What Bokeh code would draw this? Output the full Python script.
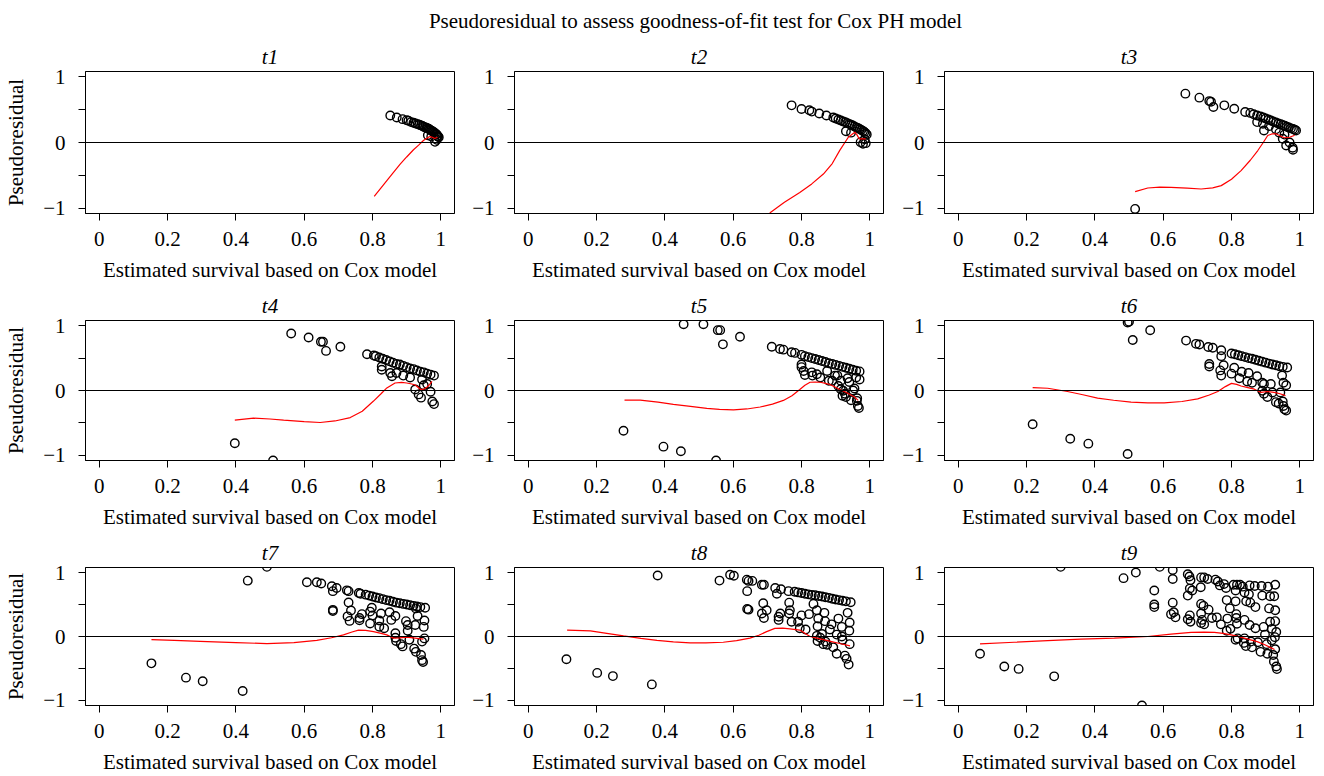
from bokeh.plotting import figure
from bokeh.layouts import gridplot, column
from bokeh.models import Range1d, FixedTicker, Span
from bokeh.embed import file_html
from bokeh.resources import INLINE

main_title = "Pseudoresidual to assess goodness-of-fit test for Cox PH model"
x_label = "Estimated survival based on Cox model"
y_label = "Pseudoresidual"
panel_names = ["t1", "t2", "t3", "t4", "t5", "t6", "t7", "t8", "t9"]
x_ticks = [0, 0.2, 0.4, 0.6, 0.8, 1]
x_tick_labels = ["0", "0.2", "0.4", "0.6", "0.8", "1"]
y_ticks = [-1, -0.5, 0, 0.5, 1]
y_tick_labels = ["\u22121", "", "0", "", "1"]

# ---------------- t1 ----------------
t1_x = [0.852, 0.871, 0.888, 0.900, 0.905, 0.913, 0.920, 0.926, 0.932, 0.937,
        0.942, 0.946, 0.950, 0.954, 0.958, 0.962, 0.965, 0.968, 0.971, 0.974,
        0.977, 0.980, 0.983, 0.986, 0.988, 0.990, 0.992, 0.994, 0.962, 0.972,
        0.983, 0.988]
t1_y = [0.41, 0.38, 0.355, 0.34, 0.33, 0.31, 0.30, 0.29, 0.28, 0.27,
        0.26, 0.25, 0.24, 0.23, 0.225, 0.215, 0.205, 0.195, 0.185, 0.175,
        0.165, 0.155, 0.14, 0.13, 0.12, 0.10, 0.09, 0.08, 0.11, 0.09,
        0.01, 0.04]
t1_fit_x = [0.805, 0.825, 0.842, 0.862, 0.881, 0.900, 0.920, 0.935, 0.949, 0.960, 0.968, 0.975, 0.982, 0.990]
t1_fit_y = [-0.82, -0.69, -0.58, -0.45, -0.33, -0.22, -0.11, -0.04, 0.03, 0.07, 0.09, 0.08, 0.06, 0.08]

# ---------------- t2 ----------------
t2_x = [0.771, 0.800, 0.823, 0.830, 0.852, 0.873, 0.893, 0.900, 0.908, 0.915,
        0.922, 0.928, 0.934, 0.940, 0.945, 0.950, 0.955, 0.960, 0.965, 0.970,
        0.975, 0.980, 0.984, 0.988, 0.991, 0.930, 0.945, 0.973, 0.980, 0.988,
        0.985]
t2_y = [0.565, 0.51, 0.49, 0.47, 0.44, 0.41, 0.38, 0.365, 0.35, 0.335,
        0.32, 0.31, 0.295, 0.28, 0.27, 0.26, 0.245, 0.23, 0.22, 0.205,
        0.19, 0.175, 0.16, 0.14, 0.12, 0.17, 0.15, 0.005, -0.02, -0.01,
        0.05]
t2_fit_x = [0.700, 0.710, 0.750, 0.795, 0.830, 0.864, 0.890, 0.912, 0.937, 0.956, 0.962, 0.969, 0.978, 0.988]
t2_fit_y = [-1.12, -1.06, -0.91, -0.76, -0.63, -0.48, -0.32, -0.12, 0.08, 0.157, 0.12, 0.055, 0.055, 0.055]

# ---------------- t3 ----------------
t3_x = [0.518, 0.665, 0.706, 0.735, 0.740, 0.747, 0.779, 0.808, 0.840, 0.855,
        0.865, 0.875, 0.885, 0.893, 0.900, 0.908, 0.915, 0.922, 0.930, 0.937,
        0.944, 0.950, 0.956, 0.962, 0.968, 0.974, 0.980, 0.985, 0.989, 0.875,
        0.892, 0.895, 0.910, 0.930, 0.950, 0.960, 0.979, 0.980, 0.970, 0.955,
        0.940]
t3_y = [-1.01, 0.743, 0.682, 0.63, 0.62, 0.539, 0.565, 0.514, 0.463, 0.45,
        0.43, 0.41, 0.395, 0.38, 0.365, 0.35, 0.335, 0.32, 0.305, 0.29,
        0.28, 0.265, 0.255, 0.24, 0.23, 0.215, 0.205, 0.195, 0.183, 0.31,
        0.285, 0.183, 0.25, 0.20, 0.056, -0.046, -0.08, -0.11, 0.0, 0.12,
        0.15]
t3_fit_x = [0.518, 0.555, 0.590, 0.623, 0.670, 0.711, 0.745, 0.770, 0.800, 0.828,
            0.855, 0.877, 0.893, 0.906, 0.918, 0.930, 0.943, 0.955, 0.970, 0.985]
t3_fit_y = [-0.748, -0.692, -0.68, -0.682, -0.695, -0.707, -0.69, -0.656, -0.56, -0.427,
            -0.27, -0.122, 0.0, 0.107, 0.13, 0.133, 0.10, 0.072, 0.08, 0.11]

# ---------------- t4 ----------------
t4_x = [0.397, 0.509, 0.562, 0.613, 0.649, 0.655, 0.664, 0.706, 0.784, 0.804,
        0.810, 0.820, 0.830, 0.840, 0.850, 0.860, 0.870, 0.880, 0.890, 0.900,
        0.910, 0.920, 0.930, 0.940, 0.950, 0.960, 0.970, 0.980, 0.827, 0.827,
        0.852, 0.857, 0.870, 0.890, 0.910, 0.925, 0.935, 0.942, 0.970, 0.975,
        0.980, 0.945, 0.950, 0.960]
t4_y = [-0.815, -1.08, 0.879, 0.818, 0.753, 0.753, 0.611, 0.676, 0.559, 0.54,
        0.53, 0.51, 0.49, 0.47, 0.45, 0.43, 0.41, 0.40, 0.38, 0.36,
        0.34, 0.33, 0.31, 0.29, 0.28, 0.26, 0.245, 0.23, 0.371, 0.32,
        0.269, 0.22, 0.27, 0.23, 0.20, 0.015, -0.06, -0.11, -0.02, -0.17,
        -0.21, 0.17, 0.08, 0.10]
t4_fit_x = [0.397, 0.452, 0.500, 0.540, 0.600, 0.647, 0.690, 0.735, 0.770, 0.803, 0.825,
            0.842, 0.866, 0.885, 0.900, 0.915, 0.925, 0.941, 0.950, 0.959, 0.967, 0.974]
t4_fit_y = [-0.458, -0.427, -0.44, -0.458, -0.48, -0.494, -0.47, -0.418, -0.32, -0.163, -0.05,
            0.04, 0.116, 0.125, 0.116, 0.10, 0.085, 0.015, 0.02, 0.05, 0.09, 0.142]

# ---------------- t5 ----------------
t5_x = [0.279, 0.396, 0.447, 0.550, 0.455, 0.513, 0.555, 0.562, 0.570, 0.620,
        0.713, 0.737, 0.747, 0.771, 0.781, 0.800, 0.810, 0.820, 0.830, 0.840,
        0.850, 0.860, 0.870, 0.880, 0.890, 0.900, 0.910, 0.920, 0.930, 0.940,
        0.950, 0.960, 0.970, 0.800, 0.800, 0.806, 0.810, 0.830, 0.832, 0.855,
        0.875, 0.880, 0.905, 0.915, 0.915, 0.920, 0.930, 0.940, 0.945, 0.955,
        0.962, 0.963, 0.965, 0.968, 0.970, 0.960, 0.935, 0.845, 0.890, 0.898,
        0.908, 0.922, 0.927, 0.951]
t5_y = [-0.621, -0.866, -0.937, -1.08, 1.023, 1.023, 0.931, 0.931, 0.712, 0.829,
        0.676, 0.64, 0.63, 0.59, 0.58, 0.55, 0.53, 0.515, 0.50, 0.485,
        0.47, 0.455, 0.44, 0.42, 0.41, 0.395, 0.38, 0.365, 0.35, 0.335,
        0.32, 0.305, 0.295, 0.40, 0.36, 0.30, 0.24, 0.28, 0.23, 0.20,
        0.30, 0.15, 0.23, 0.15, 0.02, -0.08, -0.10, 0.13, -0.15, 0.03,
        -0.16, -0.12, -0.24, -0.27, 0.17, 0.20, 0.19, 0.25, 0.15, 0.23,
        0.07, -0.005, -0.05, 0.0]
t5_fit_x = [0.282, 0.328, 0.380, 0.425, 0.475, 0.523, 0.560, 0.601, 0.640, 0.679, 0.715, 0.747, 0.772,
            0.795, 0.810, 0.825, 0.840, 0.855, 0.870, 0.883, 0.898, 0.912, 0.927, 0.942, 0.955, 0.966]
t5_fit_y = [-0.148, -0.148, -0.18, -0.214, -0.245, -0.275, -0.29, -0.30, -0.285, -0.255, -0.21, -0.153, -0.08,
            0.015, 0.08, 0.127, 0.13, 0.127, 0.11, 0.092, 0.055, 0.015, -0.02, -0.061, -0.10, -0.153]

# ---------------- t6 ----------------
t6_x = [0.218, 0.328, 0.381, 0.496, 0.496, 0.500, 0.511, 0.562, 0.667, 0.696,
        0.706, 0.732, 0.745, 0.770, 0.770, 0.800, 0.810, 0.820, 0.830, 0.840,
        0.850, 0.860, 0.870, 0.880, 0.890, 0.900, 0.910, 0.920, 0.930, 0.940,
        0.950, 0.963, 0.735, 0.735, 0.767, 0.770, 0.777, 0.800, 0.808, 0.823,
        0.830, 0.846, 0.850, 0.860, 0.875, 0.890, 0.890, 0.895, 0.905, 0.915,
        0.920, 0.930, 0.938, 0.943, 0.948, 0.950, 0.952, 0.955, 0.960, 0.960,
        0.952, 0.895]
t6_y = [-0.52, -0.745, -0.82, -0.98, 1.05, 1.06, 0.78, 0.93, 0.77, 0.72,
        0.71, 0.67, 0.66, 0.62, 0.53, 0.57, 0.56, 0.545, 0.53, 0.515,
        0.50, 0.49, 0.475, 0.46, 0.445, 0.43, 0.415, 0.40, 0.39, 0.375,
        0.365, 0.356, 0.41, 0.37, 0.31, 0.23, 0.39, 0.26, 0.35, 0.19,
        0.29, 0.14, 0.27, 0.12, 0.22, 0.12, -0.005, -0.05, -0.10, 0.10,
        -0.03, -0.18, -0.20, -0.03, 0.23, -0.17, -0.24, -0.29, -0.31, 0.08,
        0.12, 0.10]
t6_fit_x = [0.218, 0.262, 0.320, 0.365, 0.408, 0.455, 0.506, 0.555, 0.603, 0.655, 0.701, 0.735,
            0.760, 0.782, 0.800, 0.815, 0.828, 0.848, 0.867, 0.887, 0.905, 0.925, 0.942, 0.958]
t6_fit_y = [0.045, 0.035, -0.015, -0.065, -0.117, -0.15, -0.18, -0.19, -0.19, -0.17, -0.13, -0.07,
            -0.015, 0.06, 0.11, 0.095, 0.07, 0.045, 0.02, -0.03, -0.015, -0.03, -0.05, -0.08]

# ---------------- t7 ----------------
t7_x = [0.153, 0.254, 0.303, 0.420, 0.435, 0.491,
        0.608, 0.637, 0.650, 0.681, 0.684, 0.695, 0.725, 0.730, 0.760, 0.765,
        0.780, 0.790, 0.800, 0.810, 0.820, 0.830, 0.840, 0.850, 0.860, 0.870,
        0.880, 0.890, 0.900, 0.910, 0.920, 0.930, 0.940, 0.954,
        0.730, 0.737, 0.727, 0.733, 0.684, 0.684, 0.762, 0.762, 0.769, 0.793,
        0.793, 0.798, 0.800, 0.820, 0.825, 0.820, 0.834, 0.850, 0.855, 0.867,
        0.867, 0.867, 0.869, 0.883, 0.888, 0.898, 0.903, 0.903, 0.908, 0.922,
        0.927, 0.925, 0.932, 0.942, 0.945, 0.948, 0.945, 0.952, 0.950, 0.952,
        0.927]
t7_y = [-0.42, -0.644, -0.70, -0.853, 0.874, 1.09,
        0.848, 0.848, 0.83, 0.787, 0.71, 0.76, 0.722, 0.71, 0.68, 0.67,
        0.655, 0.64, 0.625, 0.61, 0.60, 0.585, 0.57, 0.56, 0.545, 0.53,
        0.52, 0.51, 0.50, 0.49, 0.48, 0.47, 0.46, 0.45,
        0.533, 0.407, 0.315, 0.244, 0.417, 0.40, 0.254, 0.29, 0.35, 0.204,
        0.39, 0.45, 0.33, 0.25, 0.36, 0.152, 0.13, 0.38, 0.26, 0.32,
        0.05, -0.02, -0.07, -0.12, -0.155, 0.24, 0.09, 0.18, -0.05, -0.19,
        -0.24, 0.18, 0.32, -0.29, -0.37, -0.40, -0.08, 0.25, 0.15, -0.03,
        0.44]
t7_fit_x = [0.153, 0.220, 0.296, 0.400, 0.491, 0.570, 0.637, 0.680, 0.715, 0.740,
            0.759, 0.780, 0.803, 0.825, 0.842, 0.861, 0.880, 0.900, 0.925, 0.949]
t7_fit_y = [-0.05, -0.06, -0.076, -0.095, -0.111, -0.095, -0.06, -0.02, 0.026, 0.07,
            0.10, 0.095, 0.076, 0.05, 0.026, -0.025, -0.02, -0.01, -0.025, -0.04]

# ---------------- t8 ----------------
t8_x = [0.112, 0.202, 0.248, 0.362, 0.379,
        0.560, 0.591, 0.602, 0.640, 0.645, 0.656, 0.684, 0.690, 0.723, 0.728, 0.740, 0.762,
        0.780, 0.790, 0.800, 0.810, 0.820, 0.830, 0.840, 0.850, 0.860, 0.870, 0.880, 0.890,
        0.900, 0.910, 0.920, 0.930, 0.944,
        0.641, 0.641, 0.645, 0.688, 0.684, 0.698, 0.690, 0.733, 0.733, 0.738,
        0.764, 0.766, 0.764, 0.771, 0.790, 0.795, 0.800, 0.812, 0.822, 0.835,
        0.845, 0.849, 0.847, 0.845, 0.847, 0.864, 0.867, 0.869, 0.883, 0.888,
        0.893, 0.903, 0.908, 0.918, 0.920, 0.927, 0.932, 0.935, 0.938, 0.941,
        0.940, 0.941, 0.918, 0.903, 0.855, 0.860, 0.870, 0.875]
t8_y = [-0.355, -0.57, -0.62, -0.75, 0.955,
        0.875, 0.966, 0.95, 0.89, 0.87, 0.87, 0.81, 0.81, 0.76, 0.67, 0.74, 0.71,
        0.70, 0.69, 0.68, 0.67, 0.66, 0.65, 0.645, 0.635, 0.625, 0.615, 0.605, 0.59,
        0.58, 0.57, 0.56, 0.55, 0.535,
        0.71, 0.43, 0.42, 0.52, 0.36, 0.41, 0.29, 0.31, 0.26, 0.36,
        0.53, 0.41, 0.36, 0.23, 0.23, 0.13, 0.33, 0.11, 0.35, 0.51,
        0.41, 0.28, 0.16, 0.01, -0.07, -0.12, 0.37, 0.24, 0.11, 0.19,
        -0.17, -0.27, 0.28, 0.15, -0.05, -0.30, -0.35, 0.37, -0.44, -0.12,
        0.09, 0.22, 0.0, 0.03, -0.02, 0.04, -0.08, -0.13]
t8_fit_x = [0.114, 0.182, 0.230, 0.279, 0.330, 0.377, 0.425, 0.474, 0.520, 0.571, 0.610, 0.649, 0.675,
            0.698, 0.722, 0.745, 0.766, 0.795, 0.810, 0.825, 0.845, 0.864, 0.888, 0.912, 0.942]
t8_fit_y = [0.10, 0.087, 0.05, 0.01, -0.03, -0.06, -0.085, -0.10, -0.10, -0.09, -0.065, -0.025, 0.02,
            0.076, 0.127, 0.13, 0.12, 0.10, 0.05, 0.0, -0.025, -0.05, -0.08, -0.11, -0.147]

# ---------------- t9 ----------------
t9_x = [0.064, 0.135, 0.177, 0.281, 0.300, 0.484, 0.520, 0.538, 0.590, 0.574,
        0.574, 0.574, 0.628, 0.628, 0.628, 0.631, 0.636, 0.623, 0.672, 0.677,
        0.680, 0.678, 0.672, 0.685, 0.678, 0.672, 0.680, 0.711, 0.720, 0.730,
        0.710, 0.711, 0.718, 0.711, 0.714, 0.711, 0.720, 0.733, 0.743, 0.753,
        0.760, 0.766, 0.757, 0.769, 0.778, 0.784, 0.786, 0.788, 0.795, 0.797,
        0.786, 0.806, 0.812, 0.816, 0.812, 0.814, 0.814, 0.816, 0.812, 0.818,
        0.825, 0.833, 0.838, 0.843, 0.838, 0.838, 0.836, 0.842, 0.853, 0.851,
        0.853, 0.855, 0.857, 0.860, 0.868, 0.870, 0.870, 0.877, 0.885, 0.888,
        0.890, 0.894, 0.898, 0.903, 0.905, 0.907, 0.913, 0.910, 0.913, 0.918,
        0.918, 0.922, 0.924, 0.928, 0.925, 0.928, 0.928, 0.931, 0.927, 0.928,
        0.931, 0.933]
t9_y = [-0.27, -0.47, -0.507, -0.624, 1.09, 0.913, 1.0, -1.08, 1.09, 0.72,
        0.50, 0.46, 1.04, 0.90, 0.53, 0.38, 0.30, 0.35, 0.975, 0.94,
        0.88, 0.75, 0.64, 0.72, 0.33, 0.27, 0.23, 0.925, 0.925, 0.90,
        0.77, 0.51, 0.48, 0.36, 0.26, 0.21, 0.19, 0.42, 0.29, 0.89,
        0.86, 0.80, 0.30, 0.19, 0.82, 0.76, 0.57, 0.28, 0.44, 0.12,
        0.09, 0.81, 0.72, 0.81, 0.55, 0.35, 0.29, 0.20, -0.05, -0.03,
        0.81, 0.78, 0.69, 0.55, 0.26, -0.03, -0.10, -0.15, 0.80, 0.66,
        0.18, 0.53, -0.08, -0.17, 0.79, 0.46, 0.13, -0.09, -0.24, 0.79,
        0.64, 0.15, 0.03, -0.12, -0.27, 0.78, 0.63, 0.44, 0.23, 0.12,
        -0.06, -0.29, -0.39, 0.81, 0.63, 0.41, 0.24, 0.07, -0.01, -0.20,
        -0.47, -0.51]
t9_fit_x = [0.064, 0.164, 0.262, 0.359, 0.457, 0.555, 0.623, 0.682, 0.720, 0.750, 0.775, 0.799,
            0.825, 0.848, 0.875, 0.896, 0.926]
t9_fit_y = [-0.116, -0.09, -0.066, -0.04, -0.025, 0.0, 0.036, 0.066, 0.07, 0.066, 0.05, 0.026,
            -0.005, -0.04, -0.08, -0.126, -0.203]

points = [(t1_x, t1_y), (t2_x, t2_y), (t3_x, t3_y), (t4_x, t4_y), (t5_x, t5_y),
          (t6_x, t6_y), (t7_x, t7_y), (t8_x, t8_y), (t9_x, t9_y)]
fits = [(t1_fit_x, t1_fit_y), (t2_fit_x, t2_fit_y), (t3_fit_x, t3_fit_y), (t4_fit_x, t4_fit_y),
        (t5_fit_x, t5_fit_y), (t6_fit_x, t6_fit_y), (t7_fit_x, t7_fit_y), (t8_fit_x, t8_fit_y),
        (t9_fit_x, t9_fit_y)]

# ---------------- layout / style ----------------
FONT = "Liberation Serif"
FS = "21px"
col_w = [462, 430, 432]
col_left = [85, 52, 52]
col_right = [8, 9, 11]
row_h = [251, 247, 241]
row_top = [34, 30, 30]
row_bottom = [75, 75, 69]

# main title in its own strip across the page
head = figure(width=1324, height=37, output_backend="svg", toolbar_location=None, tools="",
              x_axis_location=None, y_axis_location=None,
              min_border_left=66, min_border_right=0, min_border_top=33, min_border_bottom=0,
              background_fill_color="white", border_fill_color="white", outline_line_color=None)
head.grid.visible = False
head.title.text = main_title
head.title.align = "center"
head.title.text_font = FONT
head.title.text_font_size = FS
head.title.text_font_style = "normal"
head.title.text_color = "black"
head.title.standoff = 2

rows = []
for r in range(3):
    figs = []
    for c in range(3):
        k = r * 3 + c
        p = figure(width=col_w[c], height=row_h[r],
                   x_range=Range1d(-0.04, 1.04), y_range=Range1d(-1.08, 1.08),
                   output_backend="svg", toolbar_location=None, tools="",
                   min_border_left=col_left[c], min_border_right=col_right[c],
                   min_border_top=row_top[r], min_border_bottom=row_bottom[r],
                   background_fill_color="white", border_fill_color="white",
                   outline_line_color="black", outline_line_width=1)
        p.title.text = panel_names[k]
        p.title.text_font_style = "italic"
        p.title.standoff = 6
        p.title.align = "center"
        p.title.text_font = FONT
        p.title.text_font_size = FS
        p.title.text_color = "black"

        p.xgrid.visible = False
        p.ygrid.visible = False

        p.xaxis.ticker = FixedTicker(ticks=x_ticks)
        p.xaxis.major_label_overrides = dict(zip(x_ticks, x_tick_labels))
        p.yaxis.ticker = FixedTicker(ticks=y_ticks)
        p.yaxis.major_label_overrides = dict(zip(y_ticks, y_tick_labels))
        p.xaxis.axis_label = x_label
        p.xaxis.axis_label_standoff = 9
        if c == 0:
            p.yaxis.axis_label = y_label
            p.yaxis.axis_label_standoff = 12
        for ax in (p.xaxis, p.yaxis):
            ax.axis_line_color = "black"
            ax.axis_line_width = 1
            ax.major_tick_line_color = "black"
            ax.major_tick_line_width = 1
            ax.major_tick_out = 7
            ax.major_tick_in = 0
            ax.minor_tick_line_color = None
            ax.major_label_text_font = FONT
            ax.major_label_text_font_size = FS
            ax.major_label_text_color = "black"
            ax.axis_label_text_font = FONT
            ax.axis_label_text_font_size = FS
            ax.axis_label_text_font_style = "normal"
            ax.axis_label_text_color = "black"
        p.xaxis.major_label_standoff = 11
        p.yaxis.major_label_standoff = 13

        xs, ys = points[k]
        p.scatter(xs, ys, marker="circle", size=8.5, fill_color=None,
                  line_color="black", line_width=1.4)
        p.add_layout(Span(location=0, dimension="width", line_color="black", line_width=1))
        fx, fy = fits[k]
        p.line(fx, fy, line_color="#ff0000", line_width=1.2)
        figs.append(p)
    rows.append(figs)

grid = gridplot(rows, toolbar_location=None)
page = column(head, grid)
open("out.html", "w").write(file_html(page, INLINE, title="Pseudoresidual"))
